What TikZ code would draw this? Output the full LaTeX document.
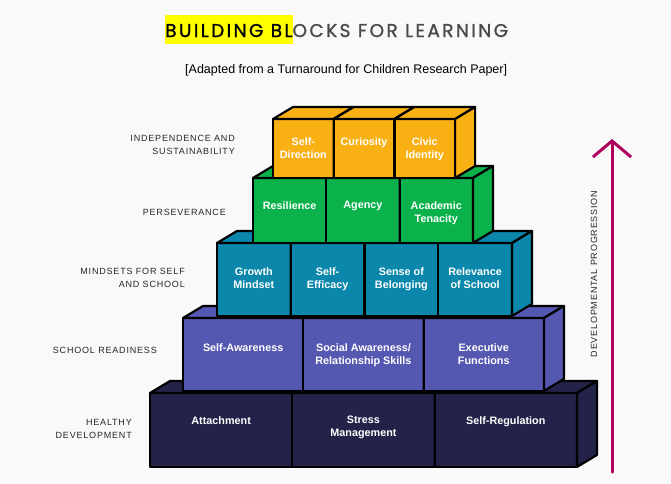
\documentclass[tikz,border=0pt]{standalone}
\usepackage{fontspec}
\usetikzlibrary{arrows.meta}
\setmainfont{Liberation Sans}
\newfontfamily\titlefont[LetterSpace=13,FakeBold=1.2]{Poppins}
\newfontfamily\capsfont[LetterSpace=9]{Liberation Sans}
\definecolor{bg}{HTML}{F9F9F9}
\definecolor{hilite}{HTML}{FFFF00}
\definecolor{titlegray}{HTML}{4A4A4A}
\definecolor{lvlA}{HTML}{23234A}
\definecolor{lvlB}{HTML}{5558B0}
\definecolor{lvlC}{HTML}{0A87AA}
\definecolor{lvlD}{HTML}{0BB24C}
\definecolor{lvlE}{HTML}{F8B013}
\definecolor{progcol}{HTML}{B0005E}

% one row of cubes: left, top, cell width, height, colour, text drop, name, texts
\newcommand{\blockrow}[8]{%
  \foreach \txt [count=\i from 0] in {#8} {
    \pgfmathsetmacro\lx{#1+\i*#3}
    \node[cubefront,fill=#5,minimum width=#3,minimum height=#4] (#7\i) at (\lx,#2) {};
    \filldraw[face,fill=#5] (#7\i.north west) -- ++(20,-12) -- ++(#3,0) -- (#7\i.north east) -- cycle;
    \filldraw[face,fill=#5] (#7\i.north east) -- ++(20,-12) -- ++(0,#4) -- (#7\i.south east) -- cycle;
    \node[celltext] (#7\i-txt) at ([yshift=-#6pt]#7\i.north) {\txt};
  }
}

\begin{document}
\begin{tikzpicture}[x=1pt,y=-1pt,
  face/.style={draw=black,line width=2.2pt,line join=round},
  cubefront/.style={face,anchor=north west,inner sep=0pt,outer sep=0pt},
  celltext/.style={text=white,font=\bfseries\fontsize{10.8}{13}\selectfont,align=center,anchor=north,inner sep=0pt},
  lvllabel/.style={font=\capsfont\fontsize{9}{13.5}\selectfont,text=black!85,align=right,anchor=east,inner sep=0pt},
  progarrow/.style={draw=progcol,line width=3pt,line cap=round,-{Straight Barb[length=16pt,width=38pt]}}]
  \fill[bg] (0,0) rectangle (671,483);
  \useasboundingbox (0,0) rectangle (671,483);

  % title
  \fill[hilite] (165,15) rectangle (293,44);
  \node[font=\titlefont\fontsize{18.5}{22}\selectfont,anchor=base west,inner sep=0pt] (title) at (165,37) {BUILDING BL\textcolor{titlegray}{OCKS FOR LEARNING}};
  \node[font=\fontsize{12.5}{15}\selectfont,anchor=base west,inner sep=0pt] (subtitle) at (185,73) {[Adapted from a Turnaround for Children Research Paper]};

  % the blocks, bottom row first
  \blockrow{150}{393}{142.3}{74}{lvlA}{23}{dev}{Attachment, Stress\\Management, Self-Regulation}
  \blockrow{183}{318}{120.3}{73}{lvlB}{25}{ready}{Self-Awareness, Social Awareness/\\Relationship Skills, Executive\\Functions}
  \blockrow{217}{243}{73.75}{73}{lvlC}{24}{mind}{Growth\\Mindset, Self-\\Efficacy, Sense of\\Belonging, Relevance\\of School}
  \blockrow{253}{178}{73.3}{65}{lvlD}{23}{pers}{Resilience, Agency, Academic\\Tenacity}
  \blockrow{273}{119}{60.7}{59}{lvlE}{18}{indep}{Self-\\Direction, Curiosity, Civic\\Identity}

  % row labels
  \node[lvllabel] (lab5) at (235,145) {INDEPENDENCE AND\\SUSTAINABILITY};
  \node[lvllabel] (lab4) at (226,212) {PERSEVERANCE};
  \node[lvllabel] (lab3) at (185,278) {MINDSETS FOR SELF\\AND SCHOOL};
  \node[lvllabel] (lab2) at (157,350) {SCHOOL READINESS};
  \node[lvllabel] (lab1) at (132,429) {HEALTHY\\DEVELOPMENT};

  % progression arrow
  \coordinate (progbot) at (612,472);
  \coordinate (progtop) at (612,139);
  \draw[progarrow] (progbot) -- (progtop);
  \node[lvllabel,anchor=center,rotate=90] (proglabel) at (594,274) {DEVELOPMENTAL PROGRESSION};
\end{tikzpicture}
\end{document}
